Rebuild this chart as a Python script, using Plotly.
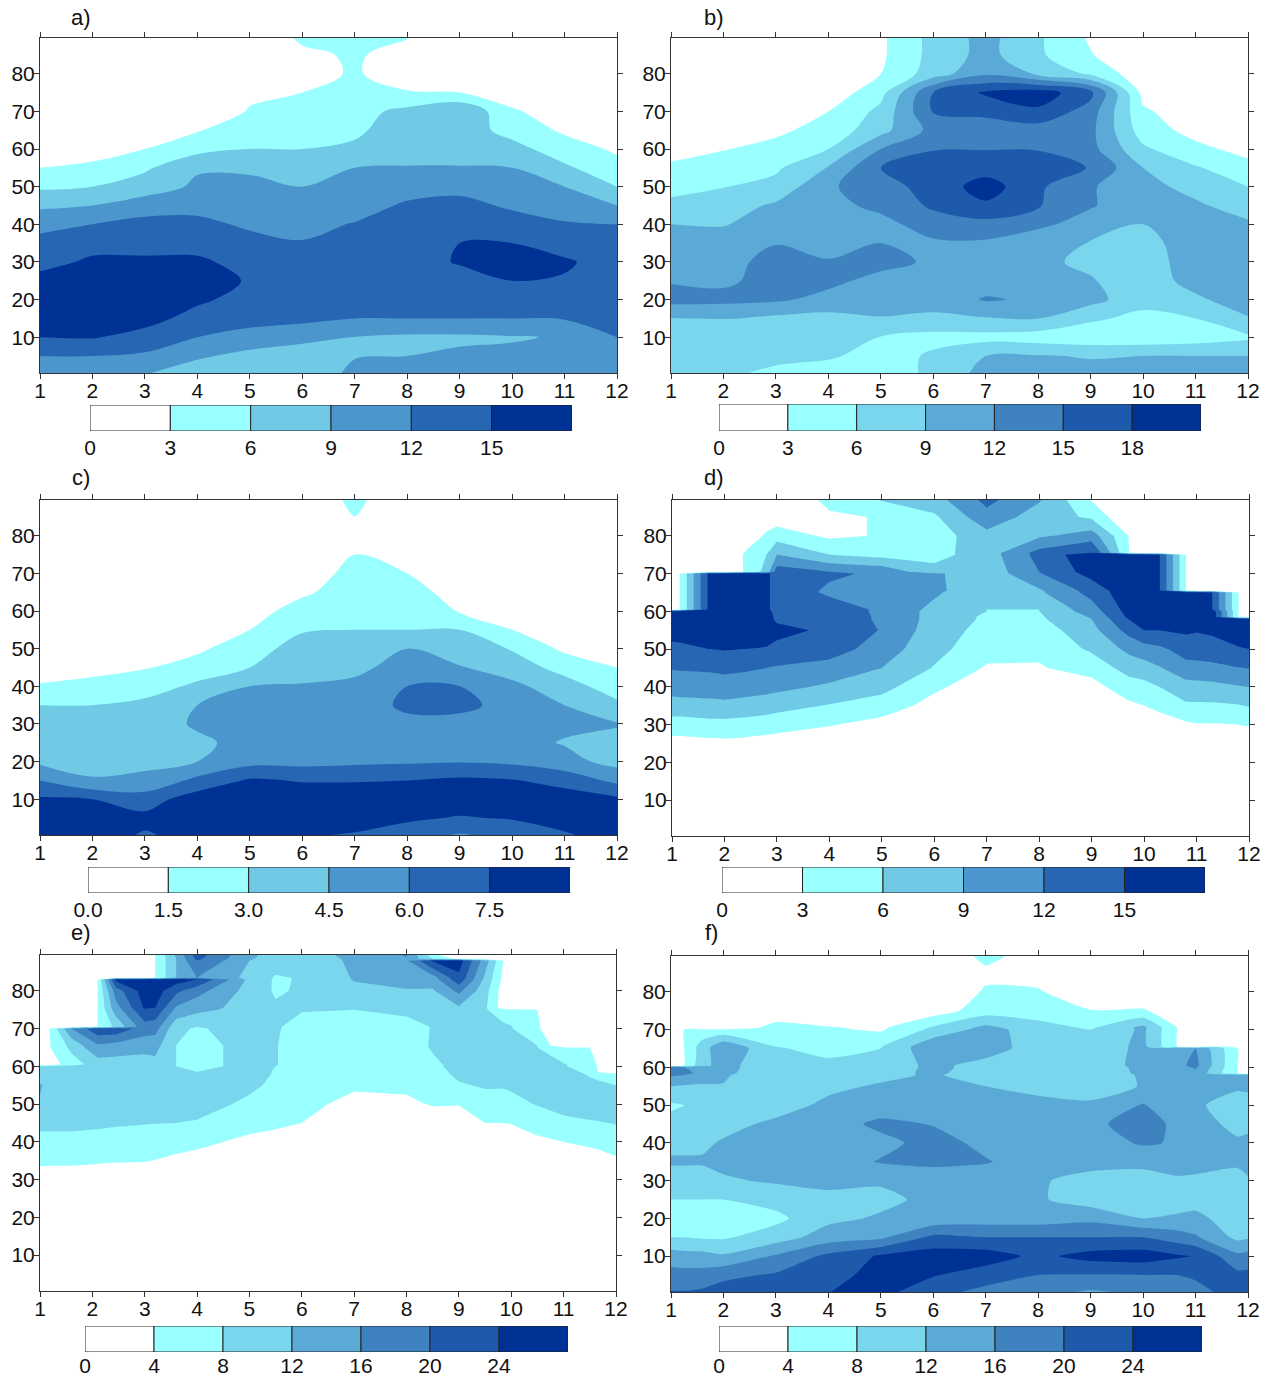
import plotly.graph_objects as go

W, H = 1269, 1378
MONTHS = list(range(1, 13))
LAT5 = list(range(0, 95, 5))

LAT_D = [0,25,30,35,40,45,50,55,58,58.5,60,60.5,65,65.5,70,70.5,75,75.5,80,85,90]
LAT_E = [0,30,35,40,45,50,55,58,58.5,60,60.5,65,65.5,70,70.5,75,75.5,80,83,83.5,88,88.5,90]
LAT_F = [0,5,10,15,20,25,30,35,40,45,50,55,58,58.5,60,60.5,65,65.5,70,70.5,75,80,85,90]

# Each inner list is one column (x value) from the lowest latitude upward; missing tail = 0
a_cols = [
 [10,12,15,16.5,17,16,14,13,11,8.5,5.5,3,2,1],
 [10,12,15.2,17,18,17,15.5,14,12,9,6,3.5,2,1],
 [9,11.5,14,16,17,16.5,15.5,14,13,10.5,7.5,5.5,3,2,1],
 [7,9.5,12,14,15.5,16,15.5,14,12.8,11,9.5,8.7,5,2.8,1],
 [6.5,8,11,13,14,14.8,14,13,11.5,10.5,9.5,8.7,6,4.5,3.2,2.5,1.5,1.5,1],
 [6.3,7.5,9.8,12.8,14,14,13.5,12.2,11,10,9,7.5,6,5,4,3,2,2.5,3.5],
 [10,8.8,8.9,12,14,14,13.8,13,12.2,10.5,9.5,9,6.5,5.5,5,3.5,3.3,3.3,3.5],
 [10.5,9,8.5,12,14,14,14,13.5,13.5,12.5,10.5,9.2,7.5,7.5,6.8,3.2,1.5,2,3.2],
 [10.5,9.5,8.5,12,14,14,15.2,15,14.6,13,11,9.2,7.5,7.5,8.8,3,1],
 [10,9.5,8.8,12,14,15,16,15,13.5,11.5,10,9,7,5,3.5,1],
 [10.5,10,9.2,12.2,14,14.8,15.3,14,12.3,10.5,9,6.5,4.5,2.5,1],
 [10,10.5,12,15,14.5,15,14,13,12,9,6,4,2.5,1.5],
]
b_cols = [
 [7,8.5,7,8.9,13,11.8,11.9,11,9,6.8,5,3.5,2,1],
 [6.3,7,7.5,9.1,12.8,11.5,11,10.5,8.8,7.5,5.9,4,2.9,1],
 [5.5,6.5,7.5,8.3,12.5,13,13,11.9,10.5,9.5,7,5.5,3.8,2.5,1],
 [4,6.5,7.5,8,11,12.8,12.2,11,10.5,11,11.5,9.2,6,4,3,1],
 [3.5,4.5,5.9,8.8,10.5,11,13,12,11,12.8,14,15,12,8,6.8,5,3,2.5,2.5],
 [7,6.5,5,8.5,10,10.5,11.5,11.5,13.5,15.5,16,16,14.9,13,15.2,15,7.5,7,7],
 [10,9,5,8.8,12.3,10.5,10.5,11.5,14,17.5,19.5,16.5,14.9,14,15.5,18.5,11.5,10,10],
 [10,9.2,4.5,9,11.5,10,9.5,10.5,12.5,15.3,15.5,16,14.9,13.5,17.5,19.5,8.5,6.5,6.5],
 [10,8.8,4,6.5,10,9.2,8.5,8.8,11,12.2,12.3,14.9,13,12.8,13.5,16,5.5,3.2,2.5],
 [10,9,4,5.2,7,7.5,7.5,8,9,10.5,10,9,6.5,4.5,3.5,2,1],
 [10,9,4.5,6,8.5,10,10.5,10.5,10.5,9.5,8,6.3,3.8,2,1],
 [10,9,5.5,8.8,10.5,11,11,11,9.5,7.5,6,4,2,1],
]
c_cols = [
 [8.3,8.3,7.7,6,4.2,3.9,3.6,3,1.6,1,.8],
 [8.2,8.2,7.5,4.6,4.1,3.9,3.6,3,1.8,1.2,.8],
 [7.3,7.9,6.8,4.8,4.2,4,3.7,3.4,2.3,1.4,1],
 [8,8.3,8.3,6.4,4.5,4.2,4.7,4.5,3.3,2.2,1.2,1],
 [8,8.2,8.2,7.7,5.5,5,5,4.9,4.5,3,2.5,1.5,1],
 [7.5,8.3,8.4,7.4,5.5,5.2,5,4.9,4.6,4,3.5,2.9,2,1.3,1],
 [7.3,8.1,8.5,7.4,5.7,5.2,5.2,5.2,4.8,4.2,3.8,3,2.5,2.1,1.8,1.5,1,1.48,2],
 [6.8,7.7,8.3,7.5,5.8,5.3,5.6,6.3,6,5,4.5,3,2.5,2,1.5,1],
 [5.7,7.4,8.2,7.8,5.9,5.3,5.6,6.3,6,4.6,3.8,3,1.4,1],
 [6.5,7.6,8.2,7.6,5.7,5,5.1,5.6,4.9,3.7,2.9,1.5,1],
 [7.3,8,8.2,7,5,4.4,4.8,4.5,3.6,2.5,1.2,1],
 [8,8.2,7.8,5.6,4,4.1,4.6,3.3,2.3,1.5,1],
]
d_x = [1,1.15,1.7,2,2.35,2.8,3,4,5,6,7,8,9,9.7,10,10.3,10.8,11,11.3,11.8,12]
d_cols = [
 [0,2,4.5,8,10,12.2,14,16.5,17,17,17],
 [0,2,4.5,8,10.2,12.3,14.2,16.5,17,17,17,3,3,3,3],
 [0,2.2,5,8.2,10.3,12.5,15,17,17,17,17,15.5,15.5,15.5,15.5],
 [0,2.3,5,8.3,10.5,12.8,15.2,17,17,17,17,17,17,17,17],
 [0,2.2,4.8,8,10.3,12.5,15,16.8,17,17,17,17,17,17,17,2.9,3,2.9],
 [0,1.8,4.4,7.5,10,12,14.8,16.5,16,16,16,15.5,15.5,15.5,15.5,7,6,5.5,3.6,1],
 [0,1.5,4.3,7,9.8,11.7,14.3,15.8,14.5,14.5,14,14,14,14,14,13.5,9,9,4.5,1.5],
 [0,1,3.2,5.8,8.5,10.8,13.5,14.5,14,14,13.5,13.5,11.5,11.5,12.5,12,6,5.5,2.5,2.5,4],
 [0,.5,2,4.5,7,9,10.5,11.8,11.5,11.5,11.5,11.5,10.5,10.5,11.5,11,5,5,3.2,3.2,6.5],
 [0,0,.5,2,3.5,5.8,7,7.5,8,8,8,8.2,9.5,9.8,9.5,7,5,5,4.5,5.5,8],
 [0,0,0,.5,1.5,2.7,4,5,5.5,5.5,6,6,6.5,6.5,7,7,7.5,7.5,8,11,13],
 [0,0,0,0,1,2.8,3.5,4.5,5.5,5.6,6,6,8.5,8.6,11.8,12,13,13,8.5,7.5,9.5],
 [0,0,0,.5,2,4,6.5,8,9,9.3,10.5,10.7,13,13.2,16,16.3,17,15,10.5,5.5,2.5],
 [0,0,.5,2.4,4.5,7.2,9.7,13,15,15.5,16,16.2,17,17,17,17,17,3.2,3],
 [0,0,.8,3,5,7.7,10.7,15,16,16,17,17,17,17,17,17,17],
 [0,.2,1.5,3.8,6,8.8,11.4,15,16,16,16.5,16.5,16.5,15,15,15,15],
 [0,.5,2.5,5.5,7.8,11,13.3,15.5,17,17,17,17,17,3,3,3,3],
 [0,.5,2.8,5.5,8,11,13.5,15.2,16.5,16.5,17,17,17],
 [0,.7,2.8,5.5,8.2,11.2,13.8,15.5,17,17,17,15,15],
 [0,1,3,5.8,8.8,11.9,14.8,16.3,17,3,3,3,3],
 [0,1,3.2,6.2,9,12.1,15,16.5,17],
]
e_x = [1,1.2,1.6,2.1,2.45,3,3.2,3.6,4,5,5.5,6,7,8,8.5,9,9.5,9.85,10,10.5,11,11.5,11.7,12]
e_cols = [
 [0,2,4.8,7,8.8,11.5,12.5,9,9,9],
 [0,2,4.7,7,8.8,11,10.5,9,9,9,2,4,4,4.5],
 [0,2,4.7,7,8.8,10,10,9.5,9.5,9.5,6,9,9.2,16],
 [0,1.5,4.5,6.8,8.6,9.8,10,10,10,9.5,10,15,15.5,23,4,4,4,4,4],
 [0,1.2,4.3,6.4,8.4,9.6,10,10,10,10,10.2,14,14.5,23,9,14,14.5,18,25],
 [0,1,4.2,6,8.2,9.5,10,10,10,10.5,10.5,13,13.5,18,18.5,23.5,24.5,26,26],
 [0,.8,3.9,5.8,8.1,9.4,10,10,10,10.8,11,13,13.5,17.5,18,23,24,26,26,4,4,4,4],
 [0,.4,3.2,5.4,8,9.2,9.8,9,8.8,8,8,8,8,9,9.5,15,15.5,21,26,12,12,12,13],
 [0,0,2.5,5,7.8,9,9.5,8.5,8,7,7,6.5,6.5,7.5,8,13,13.5,17.5,24,16,20,21,22],
 [0,0,.5,3,5.5,7.5,8.5,9,9,9,9,9.5,9.5,10,10,10.5,10.5,10.5,11,11,12,12.5,13],
 [0,0,0,2,5,6.5,7.5,7.8,7.8,8,8.2,8.2,8.2,8.4,8.4,8.5,8.5,7.5,7.5,7.6,10,10,10.5],
 [0,0,0,1.5,4,5,5.5,5.8,5.8,6,6,6,6,6.5,6.8,8.2,8.2,8.5,8.3,8.3,8.5,8.5,10],
 [0,0,0,0,1,3,4.5,5,5,5.2,5.2,5.5,5.5,7,7,8,8,11,12.2,12.3,13,13.2,13.5],
 [0,0,0,0,1.5,3.5,4.5,5,5,5,5,5.5,5.5,6.5,6.5,9,9,11.8,13,13.2,15.5,15.8,16.5],
 [0,0,0,0,2.5,4.2,5,6,6.2,7,7,8.5,8.5,8.2,8.2,9,9.2,11.5,14,14.5,24.5,8,4],
 [0,0,0,0,1.5,4.2,7.5,9,9.2,9.5,9.6,10,10,8.2,8.3,11,11.5,17,22.5,23,26,3],
 [0,0,0,.5,4,6,8.5,9,9,9.5,9.5,10,10,9.5,9.5,8.5,8.7,9.5,11,11.3,14],
 [0,0,0,1,4,5.5,8.5,9.2,9.2,9.5,9.5,9.5,9.5,9,9,5,2,2,3,3,4],
 [0,0,0,1,4.2,7,8.5,9,9,9,9,8.8,8.8,8.2,8.2,5],
 [0,0,0,3,6,8.2,9,9.5,9.5,9,9,8,8,4.5,4.5,4],
 [0,0,.5,4,7,9.5,9.5,8.8,8.8,8.3,8.3,4.2],
 [0,0,1.5,5,7.5,10.5,8.5,7.8,7.5,6,6,4],
 [0,0,2.5,5.2,7.8,10.3,8.3,7.5,3,3,3],
 [0,0,3.5,5.5,8.2,10,8,5],
]
f_x = [1,1.25,1.6,2,3,4,5,6,7,8,9,10,10.65,11,11.8,12]
f_cols = [
 [20.5,17.5,14,8,7,8,10,12.5,11,9,7.5,12,16.5,18,20],
 [20.5,17.5,13.5,8,6.8,8,10,12.5,11,9.5,8,11.5,16,17.5,16,4,4,4,4],
 [21,17.5,13.5,7.5,6.5,8,10,12.5,11.2,9.5,8.5,11.5,14,14.5,15,11,10,10,5],
 [22,19,12.5,7.5,5,8,11.5,13,12.5,10.5,9,11.8,12.5,13,13.5,13.5,15.5,15,5],
 [23,20.5,16.5,10,7,9.5,12.5,13.5,14,13,10,9,9,9,8.8,8.8,8.3,8,6,6],
 [24,22.5,21,14,11,11.5,12.5,14,14.5,14,13,11,9.5,9.2,8.8,8.8,7,7,4.5,4.3],
 [25,25.5,24.5,15.2,12.5,11,12.5,16.3,14.8,17,13.5,12.5,11,10.5,9.5,9.5,8,7.8,3.5,3.3],
 [21,24.3,26,21,13,13,14,16.8,17.5,15.8,14,12.5,12.5,12.8,13,13,15,15,9,8.5,2],
 [18.5,22,26,20,14,13,13.5,16.3,15,14,13,12,10,10,10.5,10.5,14,14,13.5,13,6,4.5,3,5.5],
 [17,20,23,20,14,12.5,12.5,14,14,14,13,11,9.5,9.5,9.5,9.5,10,10,10,9.5,6,4.5,2,2],
 [15,19.8,25.5,20,15,10,10.5,13.5,14,15,12.5,10.5,9.5,9.5,9.5,9.5,9.5,9.5,8,7.5,4.2],
 [16.5,20,26,20,12,10,10.5,13,16.5,18,16.3,12.2,12.5,12.8,13,13.3,13,13,12.8,13,4.5],
 [18,20,24.5,18,12.5,10.5,11,15,15.6,15,13,12.5,13,13.5,14.5,15,16,4,4,4,1.5],
 [19.5,20.2,23.8,16.5,13,10.5,11,14,13.5,13.5,12.5,12.5,14,15,16.5,17,16],
 [20.5,21,17,11,10,9.5,11,12.5,12.5,11,10.5,12.5,13,4,4,4,4],
 [21,21,17.5,11.5,9.5,10,11.5,13.5,13,11,11,12.5,13],
]

COLORS_6 = ["#FFFFFF","#99FFFF","#70CAE6","#4B96CC","#2666B3","#003296"]
COLORS_7 = ["#FFFFFF","#99FFFF","#7AD6EC","#5AA9D6","#3E82C0","#1E5AAB","#003296"]

a_ticks = ["0","3","6","9","12","15"]
b_ticks = ["0","3","6","9","12","15","18"]
c_ticks = ["0.0","1.5","3.0","4.5","6.0","7.5"]
d_ticks = ["0","3","6","9","12","15"]
e_ticks = ["0","4","8","12","16","20","24"]
f_ticks = ["0","4","8","12","16","20","24"]

panels = [
 dict(label="a)", lx=81, ly=17, x=MONTHS, y=LAT5, cols=a_cols, step=3, cmap=COLORS_6, ticks=a_ticks, box=(40,38,617,373), bar=(90,405,572,431), sm=1.0, so=-4),
 dict(label="b)", lx=714, ly=17, x=MONTHS, y=LAT5, cols=b_cols, step=3, cmap=COLORS_7, ticks=b_ticks, box=(671,38,1248,373), bar=(719,404,1201,431), sm=1.0, so=-4),
 dict(label="c)", lx=81, ly=478, x=MONTHS, y=LAT5, cols=c_cols, step=1.5, cmap=COLORS_6, ticks=c_ticks, box=(40,500,617,835), bar=(88,867,570,893), sm=1.0, so=-4),
 dict(label="d)", lx=714, ly=478, x=d_x, y=LAT_D, cols=d_cols, step=3, cmap=COLORS_6, ticks=d_ticks, box=(672,500,1249,836), bar=(722,867,1205,893), sm=0, so=-4),
 dict(label="e)", lx=81, ly=932, x=e_x, y=LAT_E, cols=e_cols, step=4, cmap=COLORS_7, ticks=e_ticks, box=(40,955,616,1291), bar=(85,1326,568,1352), sm=0, so=-7),
 dict(label="f)", lx=711, ly=932, x=f_x, y=LAT_F, cols=f_cols, step=4, cmap=COLORS_7, ticks=f_ticks, box=(671,956,1248,1292), bar=(719,1326,1202,1352), sm=0.6, so=-7),
]

FONT = "Liberation Sans"
fig = go.Figure()
layout = {}
ax = 0

for p in panels:
    n = len(p["cmap"])
    step = p["step"]
    ny = len(p["y"])
    rows = [[(c[j] if j < len(c) else 0) for c in p["cols"]] for j in range(ny)]
    ax += 1
    l, t, r, b = p["box"]
    xa, ya = f"x{ax}", f"y{ax}"
    fig.add_trace(go.Contour(
        x=p["x"], y=p["y"], z=rows, xaxis=xa, yaxis=ya,
        autocontour=False,
        contours=dict(coloring="fill", start=step, end=step*(n-1), size=step, showlines=False),
        line=dict(width=0, smoothing=p["sm"]),
        colorscale=[[k/(n-1), col] for k, col in enumerate(p["cmap"])],
        showscale=False, hoverinfo="skip",
    ))
    common = dict(showline=True, linecolor="#333", linewidth=1, mirror="ticks", ticks="outside",
                  ticklen=5, tickwidth=1, tickcolor="#333", showgrid=False, zeroline=False,
                  tickfont=dict(family=FONT, size=21, color="#111"))
    layout[f"xaxis{ax}"] = dict(domain=[l/W, r/W], range=[1, 12], tickvals=MONTHS, anchor=ya,
                                ticklabelstandoff=-6, **common)
    layout[f"yaxis{ax}"] = dict(domain=[1-b/H, 1-t/H], range=[0.5, 89.5], tickvals=list(range(10, 90, 10)), anchor=xa,
                                ticklabelstandoff=-5, **common)
    fig.add_annotation(text=p["label"], x=p["lx"]/W, y=1-p["ly"]/H, xref="paper", yref="paper",
                       showarrow=False, font=dict(family=FONT, size=22, color="#111"), xanchor="center", yanchor="middle")

    # classed colour key
    ax += 1
    l, t, r, b = p["bar"]
    xa, ya = f"x{ax}", f"y{ax}"
    for k, col in enumerate(p["cmap"]):
        fig.add_trace(go.Bar(x=[step], y=[0], base=[k*step], orientation="h", width=1, xaxis=xa, yaxis=ya,
                             marker=dict(color=col, line=dict(color="#222", width=1)), showlegend=False, hoverinfo="skip"))
    layout[f"xaxis{ax}"] = dict(domain=[l/W, r/W], range=[0, n*step], anchor=ya, showgrid=False, zeroline=False,
                                tickvals=[k*step for k in range(n)], ticktext=p["ticks"], ticks="outside", ticklen=2,
                                tickcolor="rgba(0,0,0,0)", showline=False, ticklabelstandoff=p["so"],
                                tickfont=dict(family=FONT, size=21, color="#111"))
    layout[f"yaxis{ax}"] = dict(domain=[1-b/H, 1-t/H], range=[-0.5, 0.5], anchor=xa, visible=False, fixedrange=True)

fig.update_layout(width=W, height=H, autosize=False, margin=dict(l=0, r=0, t=0, b=0, autoexpand=False),
                  paper_bgcolor="white", plot_bgcolor="white", showlegend=False, barmode="overlay", **layout)
fig.write_html("out.html", config={"displayModeBar": False},
               post_script="document.body.style.margin='0';document.body.style.overflow='hidden';")
